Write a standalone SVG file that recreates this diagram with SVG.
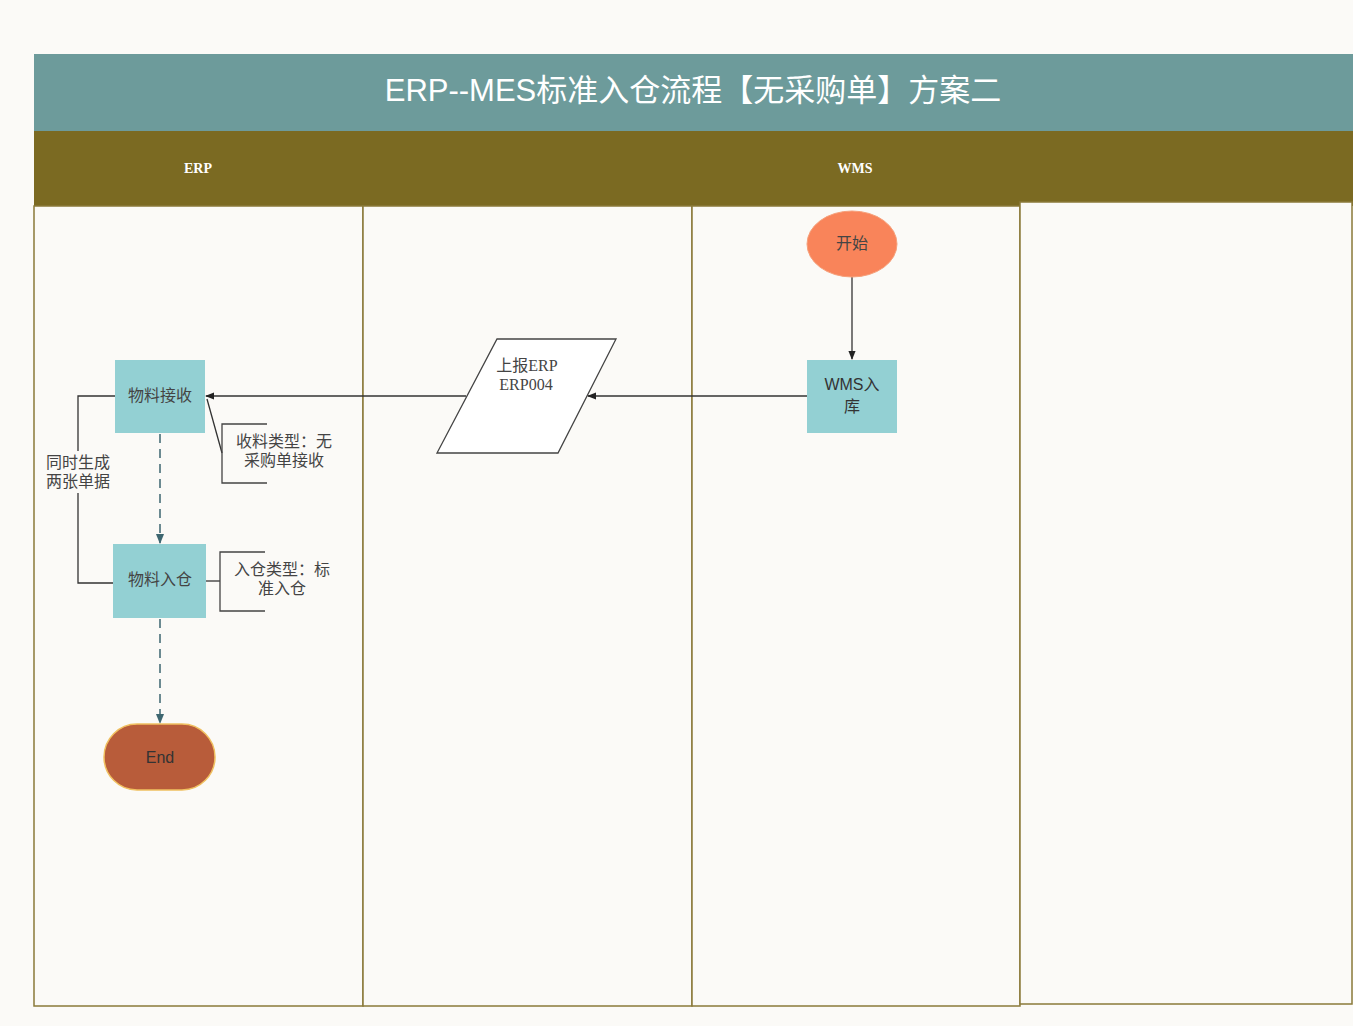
<svg xmlns="http://www.w3.org/2000/svg" width="1353" height="1026" viewBox="0 0 1353 1026">
<defs>
<style>
.lane{fill:#fbfaf7;stroke:#8a7a3a;stroke-width:1.5}
.proc{fill:#93d0d3}
.t{font-family:"Liberation Serif","Noto Sans CJK SC",serif;font-size:16px;fill:#444;text-anchor:middle}
.ts{font-family:"Liberation Sans","Noto Sans CJK SC",sans-serif;font-size:16px;fill:#333;text-anchor:middle}
.c{fill:none;stroke:#333;stroke-width:1.3}
.d{fill:none;stroke:#3d6670;stroke-width:1.5;stroke-dasharray:9 6}
.br{fill:none;stroke:#444;stroke-width:1.3}
</style>
<marker id="a" viewBox="0 0 10 10" refX="9" refY="5" markerWidth="7" markerHeight="7" orient="auto-start-reverse"><path d="M0,1 L10,5 L0,9 z" fill="#222"/></marker>
<marker id="ad" viewBox="0 0 10 10" refX="9" refY="5" markerWidth="7" markerHeight="7" orient="auto"><path d="M0,1 L10,5 L0,9 z" fill="#3d6670"/></marker>
</defs>
<rect x="0" y="0" width="1353" height="1026" fill="#fbfaf7"/>
<g id="title">
<rect x="34" y="54" width="1319" height="78" fill="#6d9b9b"/>
<text x="693" y="101" font-family="Liberation Sans,'Noto Sans CJK SC',sans-serif" font-size="31" fill="#fff" text-anchor="middle">ERP--MES标准入仓流程【无采购单】方案二</text>
</g>
<g id="lanes">
<rect x="34" y="131" width="1319" height="75" fill="#7b6a22"/>
<rect class="lane" x="34" y="206" width="329" height="800"/>
<rect class="lane" x="363" y="206" width="329" height="800"/>
<rect class="lane" x="692" y="206" width="328" height="800"/>
<rect class="lane" x="1020" y="202" width="332" height="802"/>
<text x="198" y="173" font-family="Liberation Serif,serif" font-size="14" font-weight="bold" fill="#fff" text-anchor="middle">ERP</text>
<text x="855" y="173" font-family="Liberation Serif,serif" font-size="14" font-weight="bold" fill="#fff" text-anchor="middle">WMS</text>
</g>
<g id="connectors">
<line class="c" x1="852" y1="277" x2="852" y2="359" marker-end="url(#a)"/>
<line class="c" x1="807" y1="396" x2="588" y2="396" marker-end="url(#a)"/>
<line class="c" x1="466" y1="396" x2="206" y2="396" marker-end="url(#a)"/>
<line class="d" x1="160" y1="434" x2="160" y2="543" marker-end="url(#ad)"/>
<line class="d" x1="160" y1="619" x2="160" y2="723" marker-end="url(#ad)"/>
<path class="c" d="M115,396 H78 V451 M78,493 V583 H113"/>
<text class="t" x="78" y="468">同时生成</text>
<text class="t" x="78" y="487">两张单据</text>
<line class="c" x1="207" y1="399" x2="222" y2="453"/>
<line class="c" x1="206" y1="581" x2="220" y2="581"/>
</g>
<g id="start">
<ellipse cx="852" cy="244" rx="45" ry="33" fill="#f9845a" stroke="#f6a07a" stroke-width="1"/>
<text class="t" x="852" y="249" fill="#333">开始</text>
</g>
<g id="wms-in">
<rect class="proc" x="807" y="360" width="90" height="73"/>
<text class="ts" x="852" y="390">WMS入</text>
<text class="ts" x="852" y="412">库</text>
</g>
<g id="report-erp">
<polygon points="497,339 616,339 558,453 437,453" fill="#fff" stroke="#444" stroke-width="1.3"/>
<text class="t" x="527" y="371">上报ERP</text>
<text class="t" x="526" y="390">ERP004</text>
</g>
<g id="receive">
<rect class="proc" x="115" y="360" width="90" height="73"/>
<text class="t" x="160" y="401">物料接收</text>
</g>
<g id="note-receive">
<path class="br" d="M267,424 H222 V483 H267"/>
<text class="t" x="284" y="447">收料类型：无</text>
<text class="t" x="284" y="466">采购单接收</text>
</g>
<g id="stockin">
<rect class="proc" x="113" y="544" width="93" height="74"/>
<text class="t" x="160" y="585">物料入仓</text>
</g>
<g id="note-stockin">
<path class="br" d="M265,552 H220 V611 H265"/>
<text class="t" x="282" y="575">入仓类型：标</text>
<text class="t" x="282" y="594">准入仓</text>
</g>
<g id="end">
<rect x="104" y="724" width="111" height="66" rx="33" fill="#b85c3a" stroke="#f0c060" stroke-width="1.5"/>
<text class="ts" x="160" y="763" font-size="16">End</text>
</g>
</svg>
